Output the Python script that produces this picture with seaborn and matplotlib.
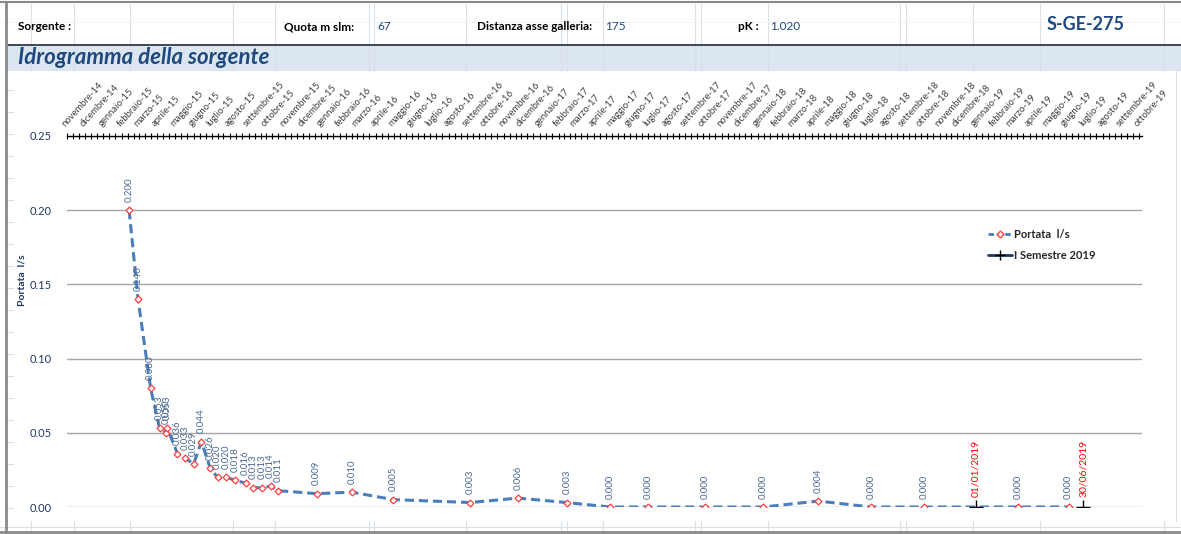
import pandas as pd
import numpy as np
import matplotlib
matplotlib.use('Agg')
import matplotlib.pyplot as plt
import matplotlib.dates as mdates
from matplotlib.lines import Line2D
from matplotlib.patches import Rectangle
import seaborn as sns

# Dati
date_misure = ['2015-02-13', '2015-02-28', '2015-03-21', '2015-04-05', '2015-04-16', '2015-04-18',
               '2015-05-05', '2015-05-18', '2015-06-01', '2015-06-14', '2015-06-29',
               '2015-07-11', '2015-07-26', '2015-08-10', '2015-08-27', '2015-09-09', '2015-09-24',
               '2015-10-08', '2015-10-21', '2015-12-24', '2016-02-21', '2016-04-30',
               '2016-09-06', '2016-11-25', '2017-02-15', '2017-04-28', '2017-07-01', '2017-10-04',
               '2018-01-10', '2018-04-12', '2018-07-10', '2018-10-06', '2019-03-13', '2019-06-05']
portata = [0.200, 0.140, 0.080, 0.053, 0.050, 0.053,
           0.036, 0.033, 0.029, 0.044, 0.026,
           0.020, 0.020, 0.018, 0.016, 0.013, 0.013,
           0.014, 0.011, 0.009, 0.010, 0.005,
           0.003, 0.006, 0.003, 0.000, 0.000, 0.000,
           0.000, 0.004, 0.000, 0.000, 0.000, 0.000]
semestre_date = ['2019-01-01', '2019-06-30']
semestre_val = [0.0, 0.0]
semestre_etichette = ['01/01/2019', '30/06/2019']

mesi = ['gennaio', 'febbraio', 'marzo', 'aprile', 'maggio', 'giugno',
        'luglio', 'agosto', 'settembre', 'ottobre', 'novembre', 'dicembre']
y_ticks = [0.00, 0.05, 0.10, 0.15, 0.20, 0.25]

intestazione = [('Sorgente :', 18, 'bold', '#000000'), ('Quota m slm:', 284, 'bold', '#000000'),
                ('67', 377, 'normal', '#1f497d'), ('Distanza asse galleria:', 477, 'bold', '#000000'),
                ('175', 605, 'normal', '#1f497d'), ('pK :', 738, 'bold', '#000000'),
                ('1.020', 770, 'normal', '#1f497d')]

df = pd.DataFrame({'data': pd.to_datetime(date_misure), 'portata': portata})
df_sem = pd.DataFrame({'data': pd.to_datetime(semestre_date), 'valore': semestre_val})

sns.set_style('white')
plt.rcParams['font.family'] = ['Lato', 'DejaVu Sans']

W, H = 1181, 534
fig = plt.figure(figsize=(W / 100, H / 100), dpi=100)

# sfondo foglio di calcolo
bg = fig.add_axes([0, 0, 1, 1], zorder=0)
bg.set_xlim(0, W)
bg.set_ylim(H, 0)
bg.axis('off')
col_x = [31, 74, 130, 233, 275, 369, 374, 466, 561, 567, 603, 695, 701, 768, 900, 906, 973, 1040, 1164]
for cx in col_x:
    bg.plot([cx, cx], [4, 71], color='#dadfe8', lw=0.8)
    bg.plot([cx, cx], [521, 532], color='#dadfe8', lw=0.8)
bg.plot([0, W], [22, 22], color='#eef0f4', lw=0.6)
bg.plot([0, W], [527, 527], color='#dadfe8', lw=0.8)
for ry in range(90, 521, 22):
    bg.plot([7, 13], [ry, ry], color='#dadfe8', lw=0.8)
bg.add_patch(Rectangle((7, 45), W - 7, 26, facecolor='#dce6f1', edgecolor='none'))
bg.plot([7, W], [45, 45], color='#1f2a3a', lw=1.2)
bg.plot([0, W], [2, 2], color='#8a8a8a', lw=1.5)
bg.plot([6, 6], [2, 534], color='#8a8a8a', lw=2)
bg.plot([0, W], [532, 532], color='#8a8a8a', lw=2)
bg.plot([1176, 1176], [71, 521], color='#dadfe8', lw=0.8)
for txt, tx, fw, col in intestazione:
    bg.text(tx, 27, txt, fontsize=8.5, fontweight=fw, color=col, va='center', ha='left')
bg.text(1086, 25, 'S-GE-275', fontsize=13, fontweight='bold', color='#1f497d', va='center', ha='center')
bg.text(18, 58, 'Idrogramma della sorgente', fontsize=16, fontweight='bold', fontstyle='italic',
        color='#1f497d', va='center', ha='left')
bg.text(22, 280, 'Portata  l/s', fontsize=7.5, fontweight='bold', color='#1f3864',
        rotation=90, va='center', ha='center')

# area del grafico
x0, x1, ytop, ybot = 67, 1142, 136, 507
ax = fig.add_axes([x0 / W, 1 - ybot / H, (x1 - x0) / W, (ybot - ytop) / H], zorder=1)
ax.set_facecolor('none')

sns.lineplot(data=df, x='data', y='portata', ax=ax, color='#4a7ebb', lw=2.2,
             linestyle=(0, (3, 1.6)), marker='D', markersize=3.5, markerfacecolor='white',
             markeredgecolor='#ff4040', markeredgewidth=0.9, zorder=3)
sns.scatterplot(data=df_sem, x='data', y='valore', ax=ax, marker='+', s=90, color='#000000',
                linewidth=1.0, zorder=4)

for d, v in zip(df['data'], df['portata']):
    ax.annotate(f'{v:.3f}', (d, v), xytext=(0, 6), textcoords='offset points',
                rotation=90, ha='center', va='bottom', fontsize=7, color='#4b6a94')
for d, v, t in zip(df_sem['data'], df_sem['valore'], semestre_etichette):
    ax.annotate(t, (d, v), xytext=(0, 7), textcoords='offset points',
                rotation=90, ha='center', va='bottom', fontsize=7.5, color='#ff0000')

ax.set_ylim(0, 0.25)
ax.set_xlim(pd.Timestamp('2014-11-01'), pd.Timestamp('2019-10-06'))
ax.set_yticks(y_ticks)
ax.set_yticklabels([f'{v:.2f}' for v in y_ticks], fontsize=8, color='#1f3864')
ax.tick_params(axis='y', length=0, pad=11)
ax.grid(axis='y', color='#a6a6a6', lw=1)
ax.grid(axis='x', visible=False)
for s in ['left', 'right', 'bottom']:
    ax.spines[s].set_visible(False)
ax.spines['top'].set_color('#000000')
ax.spines['top'].set_linewidth(1)

mesi_pos = pd.date_range('2014-11-01', '2019-10-01', freq='MS')
ax.xaxis.tick_top()
ax.set_xticks(mesi_pos)
ax.set_xticklabels([f'{mesi[d.month - 1]}-{d.strftime("%y")}' for d in mesi_pos],
                   rotation=48, ha='left', va='bottom', rotation_mode='anchor',
                   fontsize=6.8, color='#404040')
ax.xaxis.set_minor_locator(mdates.DayLocator(bymonthday=[11, 21]))
ax.tick_params(axis='x', which='both', direction='inout', length=5, width=0.8, color='#000000', pad=3)
ax.set_xlabel('')
ax.set_ylabel('')

handles = [Line2D([], [], color='#4a7ebb', lw=2, linestyle=(0, (2, 1)), marker='D', markersize=3.5,
                  markerfacecolor='white', markeredgecolor='#ff4040'),
           Line2D([], [], color='#1f3864', lw=2, marker='+', markersize=7, markeredgecolor='#000000')]
leg = ax.legend(handles, ['Portata  l/s', 'I Semestre 2019'], loc='upper left',
                bbox_to_anchor=(978 / W, 1 - 219 / H), bbox_transform=fig.transFigure,
                frameon=False, fontsize=8, handlelength=2.2, handletextpad=0.1, labelspacing=0.9)
for t in leg.get_texts():
    t.set_fontweight('bold')

fig.savefig('out.png', dpi=100, facecolor='white')
